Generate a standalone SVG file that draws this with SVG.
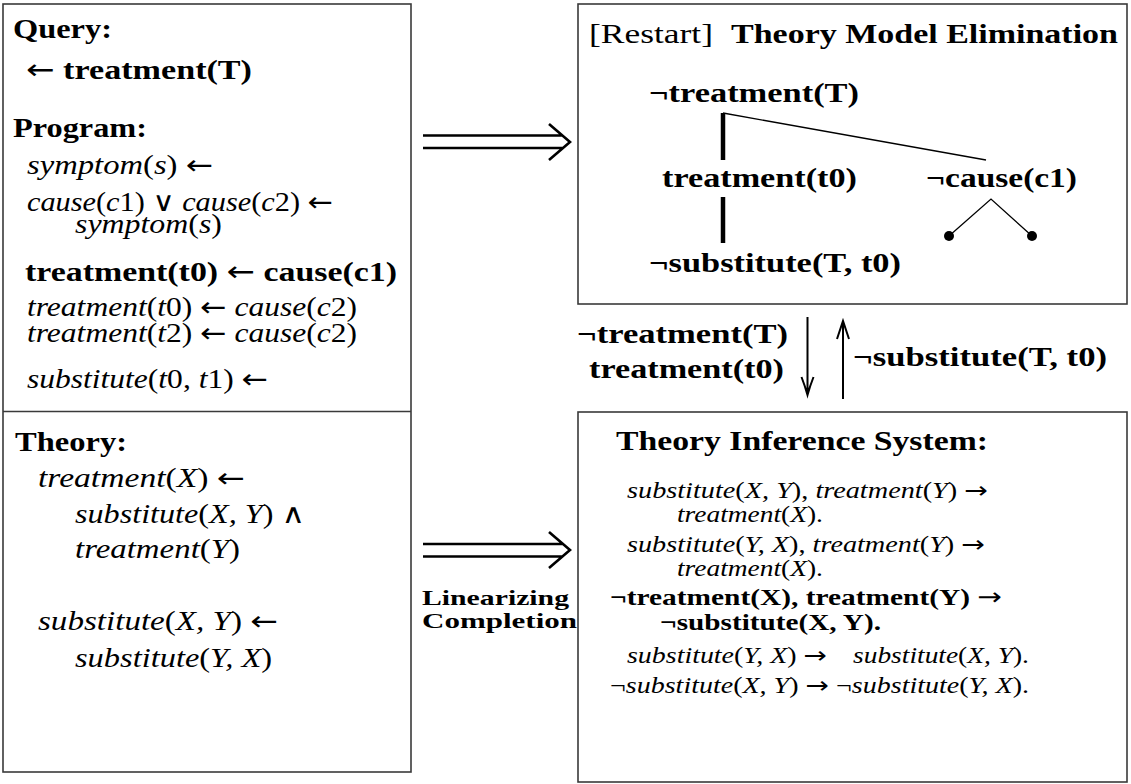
<svg xmlns="http://www.w3.org/2000/svg" width="1131" height="784" viewBox="0 0 1131 784">
  <style>
    .t { font-family: "Liberation Serif", "DejaVu Serif", serif; fill: #000; }
    .hb { font-size: 28px; font-weight: bold; }
    .hr { font-size: 28px; font-weight: normal; }
    .m { font-size: 27px; font-style: italic; }
    .ms { font-size: 23px; font-style: italic; }
    .mb { font-size: 24px; font-weight: bold; }
    .lb { font-size: 22px; font-weight: bold; }
    .r { font-style: normal; font-weight: normal; }
    .a { font-family: "DejaVu Sans", sans-serif; font-style: normal; font-weight: normal; }
    .box { fill: #fff; stroke: #3a3a3a; stroke-width: 1.6; }
    .dbl { fill: none; stroke: #000; stroke-width: 2.6; }
    .arr { fill: none; stroke: #000; stroke-width: 2; }
    .thick { stroke: #000; stroke-width: 4.5; }
    .thin { fill: none; stroke: #000; stroke-width: 1.3; }
  </style>

  <rect width="1131" height="784" fill="#fff"/>

  <!-- Left panel: query, program and theory -->
  <g id="input-panel">
    <rect class="box" x="3" y="4" width="408" height="768"/>
    <line x1="3" y1="411.5" x2="411" y2="411.5" stroke="#3a3a3a" stroke-width="1.6"/>
  </g>

  <g id="query">
    <text class="t hb" x="13" y="38" textLength="99" lengthAdjust="spacingAndGlyphs">Query:</text>
    <text class="t hb" x="26" y="79" textLength="226" lengthAdjust="spacingAndGlyphs"><tspan class="a">←</tspan> treatment(T)</text>
  </g>

  <g id="program">
    <text class="t hb" x="13" y="137" textLength="134" lengthAdjust="spacingAndGlyphs">Program:</text>
    <text class="t m" x="27" y="174" textLength="186" lengthAdjust="spacingAndGlyphs">symptom<tspan class="r">(</tspan>s<tspan class="r">) </tspan><tspan class="a">←</tspan></text>
    <text class="t m" x="27" y="211" textLength="306" lengthAdjust="spacingAndGlyphs">cause<tspan class="r">(</tspan>c<tspan class="r">1) </tspan><tspan class="a">∨</tspan> cause<tspan class="r">(</tspan>c<tspan class="r">2) </tspan><tspan class="a">←</tspan></text>
    <text class="t m" x="75" y="233" textLength="147" lengthAdjust="spacingAndGlyphs">symptom<tspan class="r">(</tspan>s<tspan class="r">)</tspan></text>
    <text class="t hb" x="25" y="281" textLength="372" lengthAdjust="spacingAndGlyphs">treatment(t0) <tspan class="a">←</tspan> cause(c1)</text>
    <text class="t m" x="27" y="316" textLength="330" lengthAdjust="spacingAndGlyphs">treatment<tspan class="r">(</tspan>t<tspan class="r">0) </tspan><tspan class="a">←</tspan> cause<tspan class="r">(</tspan>c<tspan class="r">2)</tspan></text>
    <text class="t m" x="27" y="342" textLength="330" lengthAdjust="spacingAndGlyphs">treatment<tspan class="r">(</tspan>t<tspan class="r">2) </tspan><tspan class="a">←</tspan> cause<tspan class="r">(</tspan>c<tspan class="r">2)</tspan></text>
    <text class="t m" x="27" y="388" textLength="241" lengthAdjust="spacingAndGlyphs">substitute<tspan class="r">(</tspan>t<tspan class="r">0, </tspan>t<tspan class="r">1) </tspan><tspan class="a">←</tspan></text>
  </g>

  <g id="theory">
    <text class="t hb" x="15" y="451" textLength="112" lengthAdjust="spacingAndGlyphs">Theory:</text>
    <text class="t m" x="38" y="487" textLength="207" lengthAdjust="spacingAndGlyphs">treatment<tspan class="r">(</tspan>X<tspan class="r">) </tspan><tspan class="a">←</tspan></text>
    <text class="t m" x="75" y="523" textLength="230" lengthAdjust="spacingAndGlyphs">substitute<tspan class="r">(</tspan>X, Y<tspan class="r">) </tspan><tspan class="a">∧</tspan></text>
    <text class="t m" x="75" y="558" textLength="165" lengthAdjust="spacingAndGlyphs">treatment<tspan class="r">(</tspan>Y<tspan class="r">)</tspan></text>
    <text class="t m" x="38" y="630" textLength="240" lengthAdjust="spacingAndGlyphs">substitute<tspan class="r">(</tspan>X, Y<tspan class="r">) </tspan><tspan class="a">←</tspan></text>
    <text class="t m" x="75" y="667" textLength="197" lengthAdjust="spacingAndGlyphs">substitute<tspan class="r">(</tspan>Y, X<tspan class="r">)</tspan></text>
  </g>

  <!-- Upper right panel: the model elimination tableau -->
  <g id="model-elimination">
    <rect class="box" x="578" y="4" width="549" height="300"/>
    <text class="t hr" x="589" y="43" textLength="124" lengthAdjust="spacingAndGlyphs">[Restart]</text>
    <text class="t hb" x="731" y="43" textLength="387" lengthAdjust="spacingAndGlyphs">Theory Model Elimination</text>
  </g>

  <g id="me-root">
    <text class="t hb" x="649" y="102" textLength="210" lengthAdjust="spacingAndGlyphs">¬treatment(T)</text>
  </g>
  <g id="me-treatment-t0">
    <text class="t hb" x="662" y="187" textLength="195" lengthAdjust="spacingAndGlyphs">treatment(t0)</text>
  </g>
  <g id="me-cause-c1">
    <text class="t hb" x="926" y="187" textLength="151" lengthAdjust="spacingAndGlyphs">¬cause(c1)</text>
  </g>
  <g id="me-substitute">
    <text class="t hb" x="649" y="272" textLength="252" lengthAdjust="spacingAndGlyphs">¬substitute(T, t0)</text>
  </g>

  <!-- Lower right panel: theory inference system -->
  <g id="inference-system">
    <rect class="box" x="578" y="412" width="549" height="370"/>
    <text class="t hb" x="616" y="450" textLength="372" lengthAdjust="spacingAndGlyphs">Theory Inference System:</text>
    <text class="t ms" x="627" y="498" textLength="361" lengthAdjust="spacingAndGlyphs">substitute<tspan class="r">(</tspan>X, Y<tspan class="r">), </tspan>treatment<tspan class="r">(</tspan>Y<tspan class="r">) </tspan><tspan class="a">→</tspan></text>
    <text class="t ms" x="677" y="522" textLength="146" lengthAdjust="spacingAndGlyphs">treatment<tspan class="r">(</tspan>X<tspan class="r">).</tspan></text>
    <text class="t ms" x="627" y="552" textLength="358" lengthAdjust="spacingAndGlyphs">substitute<tspan class="r">(</tspan>Y, X<tspan class="r">), </tspan>treatment<tspan class="r">(</tspan>Y<tspan class="r">) </tspan><tspan class="a">→</tspan></text>
    <text class="t ms" x="677" y="576" textLength="146" lengthAdjust="spacingAndGlyphs">treatment<tspan class="r">(</tspan>X<tspan class="r">).</tspan></text>
    <text class="t mb" x="610" y="605" textLength="392" lengthAdjust="spacingAndGlyphs">¬treatment(X), treatment(Y) <tspan class="a">→</tspan></text>
    <text class="t mb" x="660" y="630" textLength="221" lengthAdjust="spacingAndGlyphs">¬substitute(X, Y).</text>
    <text class="t ms" x="627" y="663" textLength="200" lengthAdjust="spacingAndGlyphs">substitute<tspan class="r">(</tspan>Y, X<tspan class="r">) </tspan><tspan class="a">→</tspan></text>
    <text class="t ms" x="853" y="663" textLength="176" lengthAdjust="spacingAndGlyphs">substitute<tspan class="r">(</tspan>X, Y<tspan class="r">).</tspan></text>
    <text class="t ms" x="610" y="693" textLength="419" lengthAdjust="spacingAndGlyphs"><tspan class="r">¬</tspan>substitute<tspan class="r">(</tspan>X, Y<tspan class="r">) </tspan><tspan class="a">→</tspan><tspan class="r"> ¬</tspan>substitute<tspan class="r">(</tspan>Y, X<tspan class="r">).</tspan></text>
  </g>

  <!-- Exchange labels between tableau and inference system -->
  <g id="exchange-down">
    <text class="t hb" x="577" y="343" textLength="211" lengthAdjust="spacingAndGlyphs">¬treatment(T)</text>
    <text class="t hb" x="589" y="378" textLength="195" lengthAdjust="spacingAndGlyphs">treatment(t0)</text>
  </g>
  <g id="exchange-up">
    <text class="t hb" x="853" y="366" textLength="254" lengthAdjust="spacingAndGlyphs">¬substitute(T, t0)</text>
  </g>

  <g id="completion-label">
    <text class="t lb" x="422" y="605" textLength="147" lengthAdjust="spacingAndGlyphs">Linearizing</text>
    <text class="t lb" x="422" y="628" textLength="155" lengthAdjust="spacingAndGlyphs">Completion</text>
  </g>

  <!-- Connectors -->
  <g id="connectors">
    <!-- double arrows from the input panel -->
    <path class="dbl" d="M423,135.5 H563 M423,148 H563 M549,124 L570,142 L549,160"/>
    <path class="dbl" d="M423,544 H563 M423,556.5 H563 M549,532 L570,550 L549,568"/>
    <!-- vertical exchange arrows -->
    <path class="arr" d="M807.5,317 V394 M801.5,377 Q805,386 807.5,395 Q810,386 813.5,377"/>
    <path class="arr" d="M843,399 V322 M837,339 Q840,330 843,321 Q846,330 849,339"/>
    <!-- tableau edges -->
    <line class="thick" x1="723" y1="113" x2="723" y2="160"/>
    <line class="thick" x1="723" y1="197" x2="723" y2="243"/>
    <path class="thin" d="M723,113 L986,160"/>
    <path class="thin" d="M949,236 L991,199 L1032,236"/>
    <circle cx="949" cy="236" r="5"/>
    <circle cx="1032" cy="236" r="5"/>
  </g>
</svg>
